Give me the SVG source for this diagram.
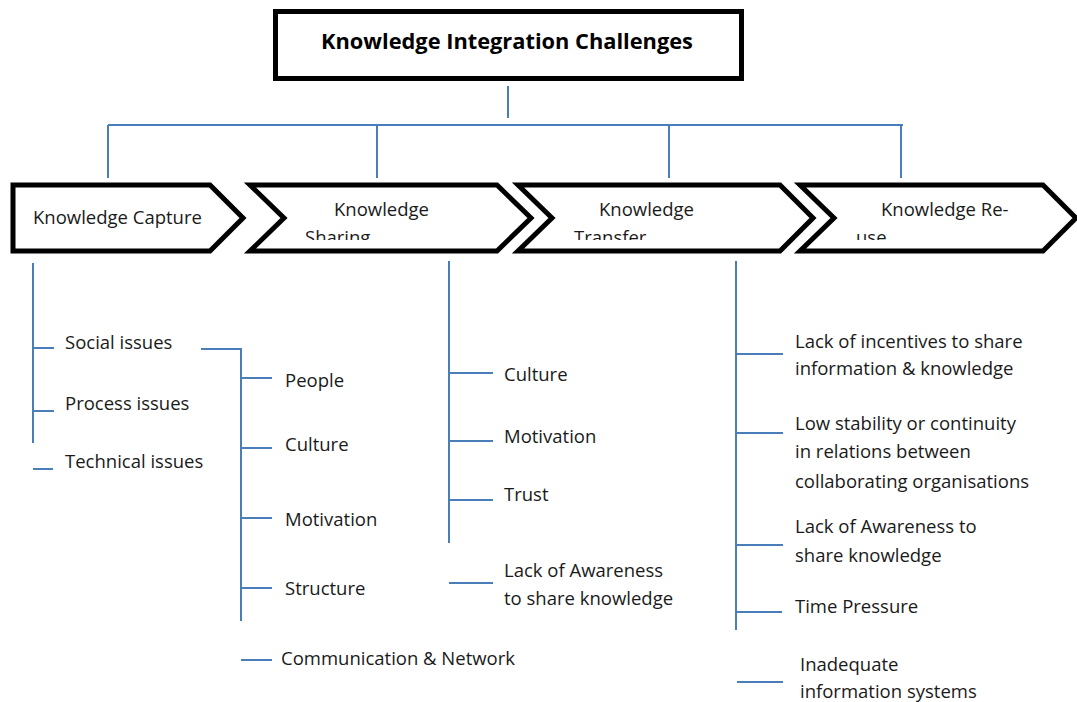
<svg xmlns="http://www.w3.org/2000/svg" width="1077" height="702" viewBox="0 0 1077 702">
<style>
text{font-family:"Open Sans","Liberation Sans",sans-serif;font-size:18.5px;fill:#1a1a1a}
.title{font-weight:bold;font-size:21.8px;fill:#000}
.box{fill:#fff;stroke:#000;stroke-width:5;stroke-linejoin:miter}
.ln{stroke:#4a7ebb;stroke-width:2;fill:none}
</style>
<defs>
<clipPath id="cl"><rect x="0" y="0" width="1077" height="240"/></clipPath>
</defs>
<rect width="1077" height="702" fill="#fff"/>
<g id="connectors">
<path class="ln" d="M508 86V118M108 125H903M108 125V178M377 125V178M669 125V178M901 125V178"/>
<path class="ln" d="M33 263V443M33 348H54M33 411H54M33 469H53"/>
<path class="ln" d="M201 349H241V621M241 378H272M241 448H272M241 518H272M241 588H272M241 660H272"/>
<path class="ln" d="M449 261V543M449 373H493M449 441H493M449 500H493M449 583H493"/>
<path class="ln" d="M736 261V630M736 354H783M736 433H783M736 545H783M736 612H782M737 682H783"/>
</g>
<g id="root">
<rect class="box" x="275.5" y="11.5" width="466" height="67"/>
<text class="title" x="507" y="49" text-anchor="middle">Knowledge Integration Challenges</text>
</g>
<g id="capture">
<path class="box" d="M13 185H210L243 218L210 251H13Z"/>
<text x="33" y="224">Knowledge Capture</text>
</g>
<g id="sharing">
<path class="box" d="M250 185H497L531 218L497 251H250L284 218Z"/>
<text x="334" y="216">Knowledge</text>
<text x="305" y="244" clip-path="url(#cl)">Sharing</text>
</g>
<g id="transfer">
<path class="box" d="M518 185H780L813 218L780 251H518L552 218Z"/>
<text x="599" y="216">Knowledge</text>
<text x="574" y="244" clip-path="url(#cl)">Transfer</text>
</g>
<g id="reuse">
<path class="box" d="M800 185H1043L1076 218L1043 251H800L834 218Z"/>
<text x="881" y="216">Knowledge Re-</text>
<text x="856" y="244" clip-path="url(#cl)">use</text>
</g>
<g id="capture-items">
<text x="65" y="349">Social issues</text>
<text x="65" y="410">Process issues</text>
<text x="65" y="468">Technical issues</text>
</g>
<g id="social-items">
<text x="285" y="387">People</text>
<text x="285" y="451">Culture</text>
<text x="285" y="526">Motivation</text>
<text x="285" y="595">Structure</text>
<text x="281" y="665">Communication &amp; Network</text>
</g>
<g id="sharing-items">
<text x="504" y="381">Culture</text>
<text x="504" y="443">Motivation</text>
<text x="504" y="501">Trust</text>
<text x="504" y="577">Lack of Awareness</text>
<text x="504" y="605">to share knowledge</text>
</g>
<g id="transfer-items">
<text x="795" y="348">Lack of incentives to share</text>
<text x="795" y="375">information &amp; knowledge</text>
<text x="795" y="430">Low stability or continuity</text>
<text x="795" y="458">in relations between</text>
<text x="795" y="488">collaborating organisations</text>
<text x="795" y="533">Lack of Awareness to</text>
<text x="795" y="562">share knowledge</text>
<text x="795" y="613">Time Pressure</text>
<text x="800" y="671">Inadequate</text>
<text x="800" y="698">information systems</text>
</g>
</svg>
